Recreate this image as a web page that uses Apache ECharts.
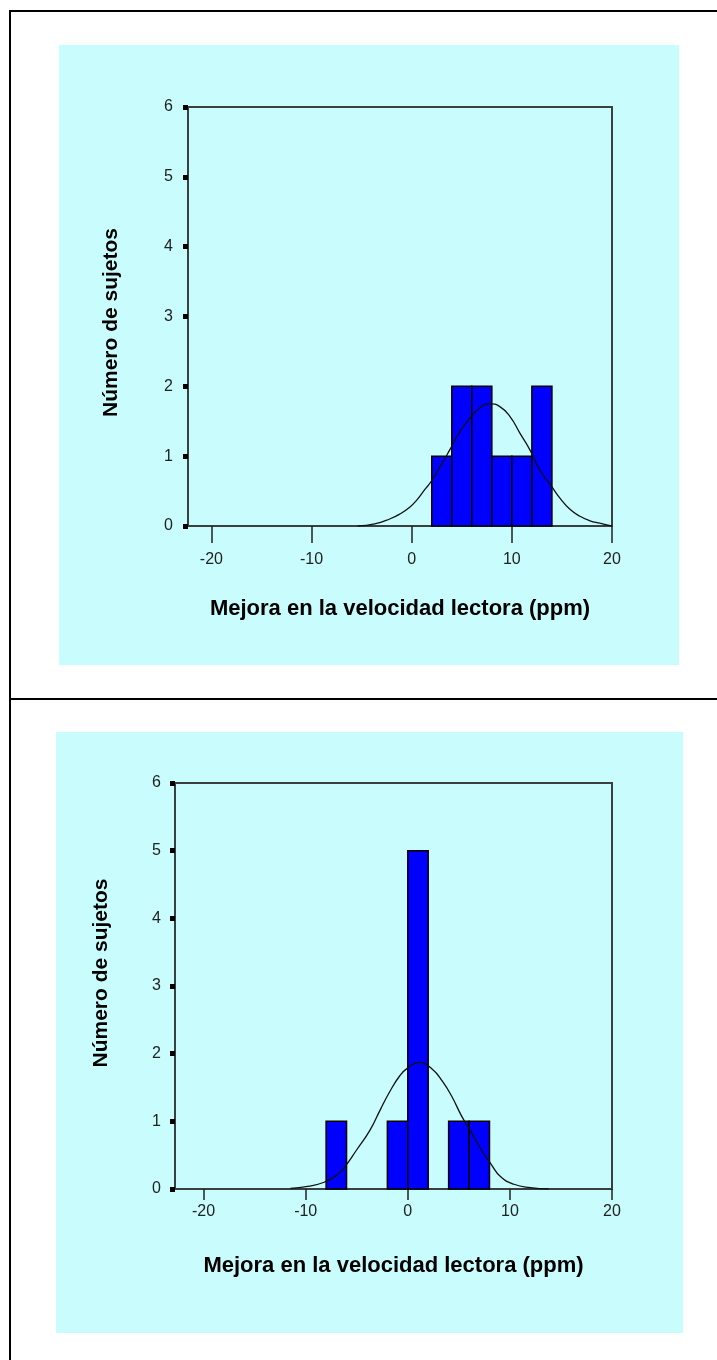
<!DOCTYPE html>
<html>
<head>
<meta charset="utf-8">
<script src="https://cdn.jsdelivr.net/npm/echarts@6/dist/echarts.min.js"></script>
<style>
html,body{margin:0;padding:0;background:#fff;}
#c{width:717px;height:1360px;}
</style>
</head>
<body>
<div id="c"></div>
<script>
// ---- data ----
const xTicks = [-20, -10, 0, 10, 20];
const yTicks = [0, 1, 2, 3, 4, 5, 6];
const xTitle = 'Mejora en la velocidad lectora (ppm)';
const yTitle = 'Número de sujetos';

// chart 1 (top)
const binEdges1 = [2, 4, 6, 8, 10, 12, 14];
const counts1 = [1, 2, 2, 1, 1, 2];
const curveX1 = [-5.4, -3.7, -2.2, -1.2, -0.2, 0.5, 1.3, 1.9, 2.8, 3.8, 4.8, 5.8, 6.8, 7.8, 8.8, 9.8, 10.8, 11.8, 12.8, 14.0, 14.8, 15.8, 16.8, 17.8, 18.8, 19.7, 20];
const curveY1 = [0.0, 0.03, 0.10, 0.17, 0.27, 0.37, 0.52, 0.63, 0.84, 1.09, 1.35, 1.54, 1.69, 1.75, 1.71, 1.57, 1.33, 1.09, 0.80, 0.56, 0.40, 0.24, 0.14, 0.075, 0.04, 0.01, 0.0];

// chart 2 (bottom)
const binEdges2 = [-8, -6, -4, -2, 0, 2, 4, 6, 8];
const counts2 = [1, 0, 0, 1, 5, 0, 1, 1];
const curveX2 = [-11.5, -9.8, -8.2, -6.9, -6.15, -5.0, -3.7, -2.7, -1.8, -0.8, 0, 1.1, 2.4, 3.4, 4.3, 5.3, 6.1, 7.2, 8.1, 9.1, 10.4, 12.0, 13.8];
const curveY2 = [0.01, 0.04, 0.10, 0.21, 0.33, 0.58, 0.87, 1.17, 1.43, 1.67, 1.79, 1.87, 1.77, 1.59, 1.37, 1.07, 0.87, 0.58, 0.38, 0.18, 0.07, 0.02, 0.0];

// ---- helpers ----
function binsData(edges, counts) {
  const out = [];
  for (let i = 0; i < counts.length; i++) {
    if (counts[i] > 0) out.push([edges[i], edges[i + 1], counts[i]]);
  }
  return out;
}
function pairs(xs, ys) { return xs.map((x, i) => [x, ys[i]]); }

const FONT = '"Liberation Sans", Arial, sans-serif';
const CYAN = '#C9FCFC';
const FRAME = '#3a3f3f';

function renderBin(params, api) {
  const x0 = api.value(0), x1 = api.value(1), c = api.value(2);
  const p0 = api.coord([x0, c]);
  const p1 = api.coord([x1, 0]);
  return {
    type: 'rect',
    shape: { x: p0[0], y: p0[1], width: p1[0] - p0[0], height: p1[1] - p0[1] },
    style: { fill: '#0000FF', stroke: '#000', lineWidth: 1.5 }
  };
}

function xAxisCfg(gridIndex, min, tickLen, labelMargin, nameGap) {
  return {
    type: 'value', gridIndex: gridIndex, min: min, max: 20,
    axisLine: { show: false, onZero: false },
    splitLine: { show: false },
    axisTick: { show: true, customValues: xTicks, length: tickLen, lineStyle: { color: '#222', width: 1.5 } },
    axisLabel: { customValues: xTicks, margin: labelMargin, color: '#222', fontSize: 16, fontFamily: FONT },
    name: xTitle, nameLocation: 'middle', nameGap: nameGap,
    nameTextStyle: { fontSize: 22, fontWeight: 'bold', color: '#000', fontFamily: FONT }
  };
}
function yAxisCfg(gridIndex, labelMargin, nameGap, namePad) {
  return {
    type: 'value', gridIndex: gridIndex, min: 0, max: 6, interval: 1,
    axisLine: { show: false, onZero: false },
    splitLine: { show: false },
    axisTick: { show: true, length: 5, lineStyle: { color: '#000', width: 5 } },
    axisLabel: { margin: labelMargin, color: '#222', fontSize: 16, fontFamily: FONT },
    name: yTitle, nameLocation: 'middle', nameGap: nameGap,
    nameTextStyle: { fontSize: 21, fontWeight: 'bold', color: '#000', fontFamily: FONT, padding: namePad }
  };
}

const chart = echarts.init(document.getElementById('c'), null, { renderer: 'canvas' });
chart.setOption({
  backgroundColor: '#ffffff',
  animation: false,
  graphic: [
    { type: 'rect', z: -10, shape: { x: 59, y: 45, width: 620, height: 620 }, style: { fill: CYAN } },
    { type: 'rect', z: -10, shape: { x: 56, y: 732, width: 627, height: 601 }, style: { fill: CYAN } },
    { type: 'rect', z: -5, shape: { x: 9, y: 10, width: 708, height: 2 }, style: { fill: '#000' } },
    { type: 'rect', z: -5, shape: { x: 9, y: 10, width: 2, height: 1350 }, style: { fill: '#000' } },
    { type: 'rect', z: -5, shape: { x: 9, y: 698, width: 708, height: 2 }, style: { fill: '#000' } }
  ],
  grid: [
    { left: 188, top: 107, width: 424, height: 419, show: true, borderColor: FRAME, borderWidth: 2, backgroundColor: 'transparent' },
    { left: 175, top: 783, width: 437, height: 406, show: true, borderColor: FRAME, borderWidth: 2, backgroundColor: 'transparent' }
  ],
  xAxis: [
    xAxisCfg(0, -22.34, 17, 26, 72),
    xAxisCfg(1, -22.8, 11, 15, 66)
  ],
  yAxis: [
    yAxisCfg(0, 15, 66, [0, 12, 0, 0]),
    yAxisCfg(1, 14, 63, [0, 0, 0, 26])
  ],
  series: [
    { type: 'custom', xAxisIndex: 0, yAxisIndex: 0, renderItem: renderBin, data: binsData(binEdges1, counts1), encode: { x: [0, 1], y: 2 }, z: 2 },
    { type: 'line', xAxisIndex: 0, yAxisIndex: 0, data: pairs(curveX1, curveY1), smooth: 0.5, symbol: 'none', lineStyle: { color: '#111', width: 1.3 }, z: 3 },
    { type: 'custom', xAxisIndex: 1, yAxisIndex: 1, renderItem: renderBin, data: binsData(binEdges2, counts2), encode: { x: [0, 1], y: 2 }, z: 2 },
    { type: 'line', xAxisIndex: 1, yAxisIndex: 1, data: pairs(curveX2, curveY2), smooth: 0.5, symbol: 'none', lineStyle: { color: '#111', width: 1.3 }, z: 3 }
  ]
});
</script>
</body>
</html>
